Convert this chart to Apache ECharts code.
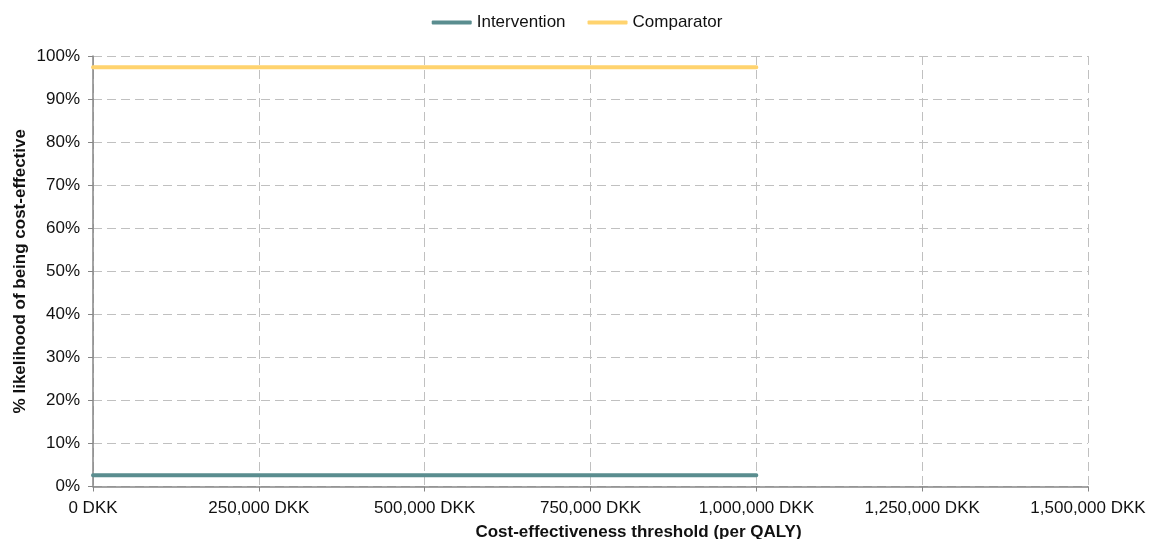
<!DOCTYPE html>
<html>
<head>
<meta charset="utf-8">
<script src="https://cdn.jsdelivr.net/npm/echarts@6/dist/echarts.min.js"></script>
<style>
  html, body { margin: 0; padding: 0; background: #fff; }
  #chart { width: 1154px; height: 539px; }
</style>
</head>
<body>
<div id="chart"></div>
<script>
// Cost-effectiveness acceptability curve (per QALY threshold, DKK)
const thresholds = [0, 100000, 200000, 300000, 400000, 500000, 600000, 700000, 800000, 900000, 1000000];
const intervention = [2.6, 2.6, 2.6, 2.6, 2.6, 2.6, 2.6, 2.6, 2.6, 2.6, 2.6];
const comparator = [97.4, 97.4, 97.4, 97.4, 97.4, 97.4, 97.4, 97.4, 97.4, 97.4, 97.4];
const seriesNames = ['Intervention', 'Comparator'];
const xTitle = 'Cost-effectiveness threshold (per QALY)';
const yTitle = '% likelihood of being cost-effective';

const font = '"Liberation Sans", Arial, sans-serif';
const textColor = '#111';
const pair = (xs, ys) => xs.map((x, i) => [x, ys[i]]);
const fmtDKK = v => v.toLocaleString('en-US') + ' DKK';

const chart = echarts.init(document.getElementById('chart'), null, { renderer: 'canvas' });
chart.setOption({
  animation: false,
  backgroundColor: '#ffffff',
  textStyle: { fontFamily: font },
  legend: {
    top: 9,
    left: 'center',
    itemWidth: 40,
    itemHeight: 4,
    itemGap: 22,
    icon: 'roundRect',
    textStyle: { fontFamily: font, fontSize: 17, color: textColor },
    data: seriesNames
  },
  grid: { left: 93, right: 66, top: 56, bottom: 52.5, containLabel: false, outerBoundsMode: 'none' },
  xAxis: {
    type: 'value',
    min: 0, max: 1500000, interval: 250000,
    name: xTitle,
    nameLocation: 'middle',
    nameGap: 37,
    nameMoveOverlap: false,
    nameTextStyle: { fontFamily: font, fontSize: 17, fontWeight: 'bold', color: textColor, padding: [0, 0, 0, 96] },
    axisLine: { show: true, lineStyle: { color: '#868686', width: 1.5 } },
    axisTick: { show: true, length: 5, lineStyle: { color: '#868686' } },
    axisLabel: { fontFamily: font, fontSize: 17, color: textColor, margin: 13, formatter: fmtDKK },
    splitLine: { show: true, lineStyle: { color: '#C0C0C0', type: [9, 5], width: 1 } }
  },
  yAxis: {
    type: 'value',
    min: 0, max: 100, interval: 10,
    name: yTitle,
    nameLocation: 'middle',
    nameGap: 64,
    nameMoveOverlap: false,
    nameTextStyle: { fontFamily: font, fontSize: 17, fontWeight: 'bold', color: textColor },
    axisLine: { show: true, lineStyle: { color: '#868686', width: 1.5 } },
    axisTick: { show: true, length: 5, lineStyle: { color: '#868686' } },
    axisLabel: { fontFamily: font, fontSize: 17, color: textColor, margin: 13, formatter: v => v + '%' },
    splitLine: { show: true, lineStyle: { color: '#C0C0C0', type: [9, 5], width: 1 } }
  },
  series: [
    {
      name: seriesNames[0], type: 'line', data: pair(thresholds, intervention),
      showSymbol: false, symbol: 'none',
      lineStyle: { color: '#5A8D8F', width: 4, cap: 'round' },
      itemStyle: { color: '#5A8D8F' }
    },
    {
      name: seriesNames[1], type: 'line', data: pair(thresholds, comparator),
      showSymbol: false, symbol: 'none',
      lineStyle: { color: '#FFD36E', width: 4, cap: 'round' },
      itemStyle: { color: '#FFD36E' }
    }
  ]
});
</script>
</body>
</html>
